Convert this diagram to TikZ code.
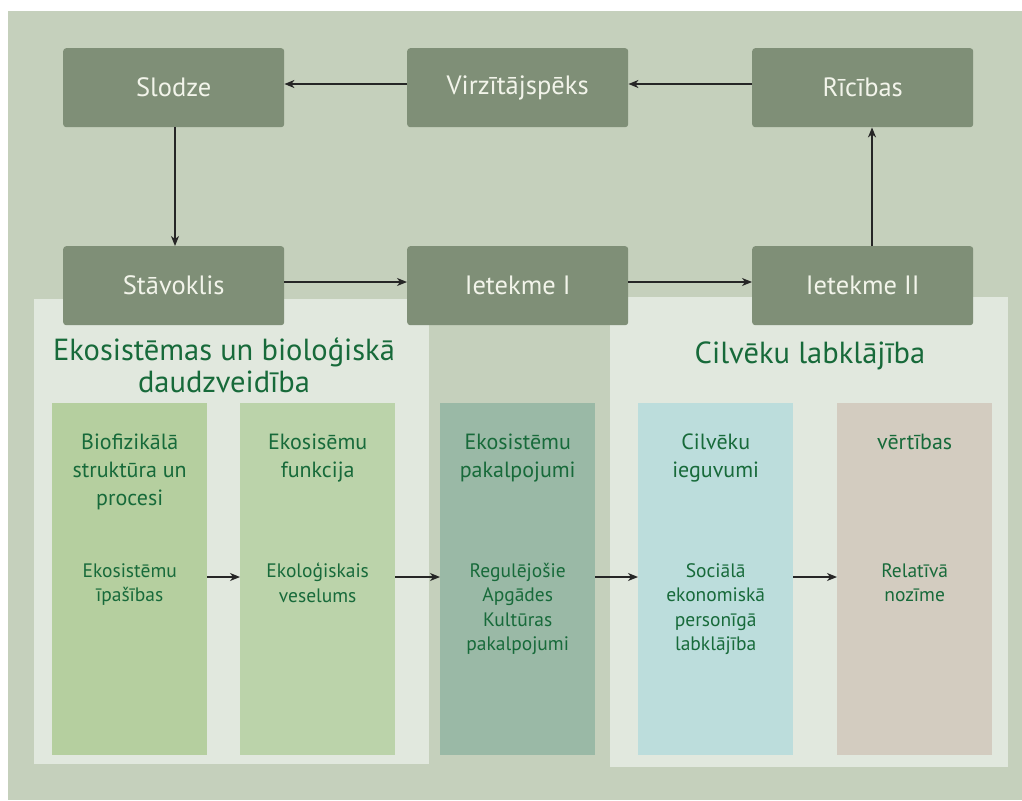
\documentclass[tikz,border=0pt]{standalone}
\usepackage{fontspec}
\setmainfont{PT Sans}
\usetikzlibrary{arrows.meta}

\definecolor{bgGreen}{HTML}{C5D0BC}
\definecolor{boxGreen}{HTML}{7F8F77}
\definecolor{panelLight}{HTML}{E1E8DE}
\definecolor{colA}{HTML}{B5CF9F}
\definecolor{colB}{HTML}{BBD3AA}
\definecolor{colC}{HTML}{9AB9A6}
\definecolor{colD}{HTML}{BCDDDC}
\definecolor{colE}{HTML}{D3CCC0}
\definecolor{textGreen}{HTML}{176A3A}
\definecolor{labelWhite}{HTML}{F2F4EA}

\tikzset{
  dpsir/.style={draw=none, fill=boxGreen, rounded corners=3pt,
    minimum width=221pt, minimum height=79pt, inner sep=0pt,
    anchor=north west, text=labelWhite,
    font=\fontsize{26.5}{30}\selectfont},
  panel/.style={draw=none, fill=panelLight},
  column/.style={draw=none, minimum width=155pt, minimum height=352pt,
    inner sep=0pt, anchor=north west},
  coltitle/.style={anchor=north, inner sep=0pt, align=center, text=textGreen,
    font=\fontsize{22}{28}\selectfont},
  colbody/.style={anchor=north, inner sep=0pt, align=center, text=textGreen,
    font=\fontsize{19.5}{24.5}\selectfont},
  paneltitle/.style={inner sep=0pt, align=center, text=textGreen,
    font=\fontsize{30.5}{32}\selectfont},
  arr/.style={draw=black!85, line width=1.3pt,
    -{Stealth[length=10pt,width=8pt,inset=3pt]}}
}

\begin{document}
\begin{tikzpicture}[x=1pt,y=-1pt]
  \useasboundingbox (0,0) rectangle (1022,800);
  \fill[white] (0,0) rectangle (1022,800);
  \fill[bgGreen] (8,11) rectangle (1022,800);

  % light panels behind the lower half
  \fill[panel] (34,299) rectangle (429,764);
  \fill[panel] (610,297) rectangle (1008,767);

  % coloured columns
  \node[column, fill=colA] (c1) at (52,403) {};
  \node[column, fill=colB] (c2) at (240,403) {};
  \node[column, fill=colC] (c3) at (440,403) {};
  \node[column, fill=colD] (c4) at (638,403) {};
  \node[column, fill=colE] (c5) at (837,403) {};

  % column headings
  \node[coltitle] (t1) at (c1.north |- 0,434) {Biofizikālā\\struktūra un\\procesi};
  \node[coltitle] (t2) at (c2.north |- 0,434) {Ekosisēmu\\funkcija};
  \node[coltitle] (t3) at (c3.north |- 0,434) {Ekosistēmu\\pakalpojumi};
  \node[coltitle] (t4) at (c4.north |- 0,434) {Cilvēku\\ieguvumi};
  \node[coltitle] (t5) at (c5.north |- 0,434) {vērtības};

  % column contents
  \node[colbody] (b1) at (c1.north |- 0,563) {Ekosistēmu\\īpašības};
  \node[colbody] (b2) at (c2.north |- 0,563) {Ekoloģiskais\\veselums};
  \node[colbody] (b3) at (c3.north |- 0,563) {Regulējošie\\Apgādes\\Kultūras\\pakalpojumi};
  \node[colbody] (b4) at (c4.north |- 0,563) {Sociālā\\ekonomiskā\\personīgā\\labklājība};
  \node[colbody] (b5) at (c5.north |- 0,563) {Relatīvā\\nozīme};

  % panel headings
  \node[paneltitle] (p1) at (224,365) {Ekosistēmas un bioloģiskā\\daudzveidība};
  \node[paneltitle] (p2) at (810,356) {Cilvēku labklājība};

  % DPSIR boxes
  \node[dpsir] (slo) at (63,48)   {Slodze};
  \node[dpsir] (vir) at (407,48)  {Virzītājspēks};
  \node[dpsir] (ric) at (752,48)  {Rīcības};
  \node[dpsir] (sta) at (63,246)  {Stāvoklis};
  \node[dpsir] (ie1) at (407,246) {Ietekme I};
  \node[dpsir] (ie2) at (752,246) {Ietekme II};

  % cycle connectors
  \draw[arr] (vir.west |- 0,84) -- (slo.east |- 0,84);
  \draw[arr] (ric.west |- 0,84) -- (vir.east |- 0,84);
  \draw[arr] (slo.south -| 175,0) -- (sta.north -| 175,0);
  \draw[arr] (sta.east |- 0,282) -- (ie1.west |- 0,282);
  \draw[arr] (ie1.east |- 0,282) -- (ie2.west |- 0,282);
  \draw[arr] (ie2.north -| 872,0) -- (ric.south -| 872,0);

  % chain between the columns
  \draw[arr] (c1.east |- 0,577) -- (c2.west |- 0,577);
  \draw[arr] (c2.east |- 0,577) -- (c3.west |- 0,577);
  \draw[arr] (c3.east |- 0,577) -- (c4.west |- 0,577);
  \draw[arr] (c4.east |- 0,577) -- (c5.west |- 0,577);
\end{tikzpicture}
\end{document}
